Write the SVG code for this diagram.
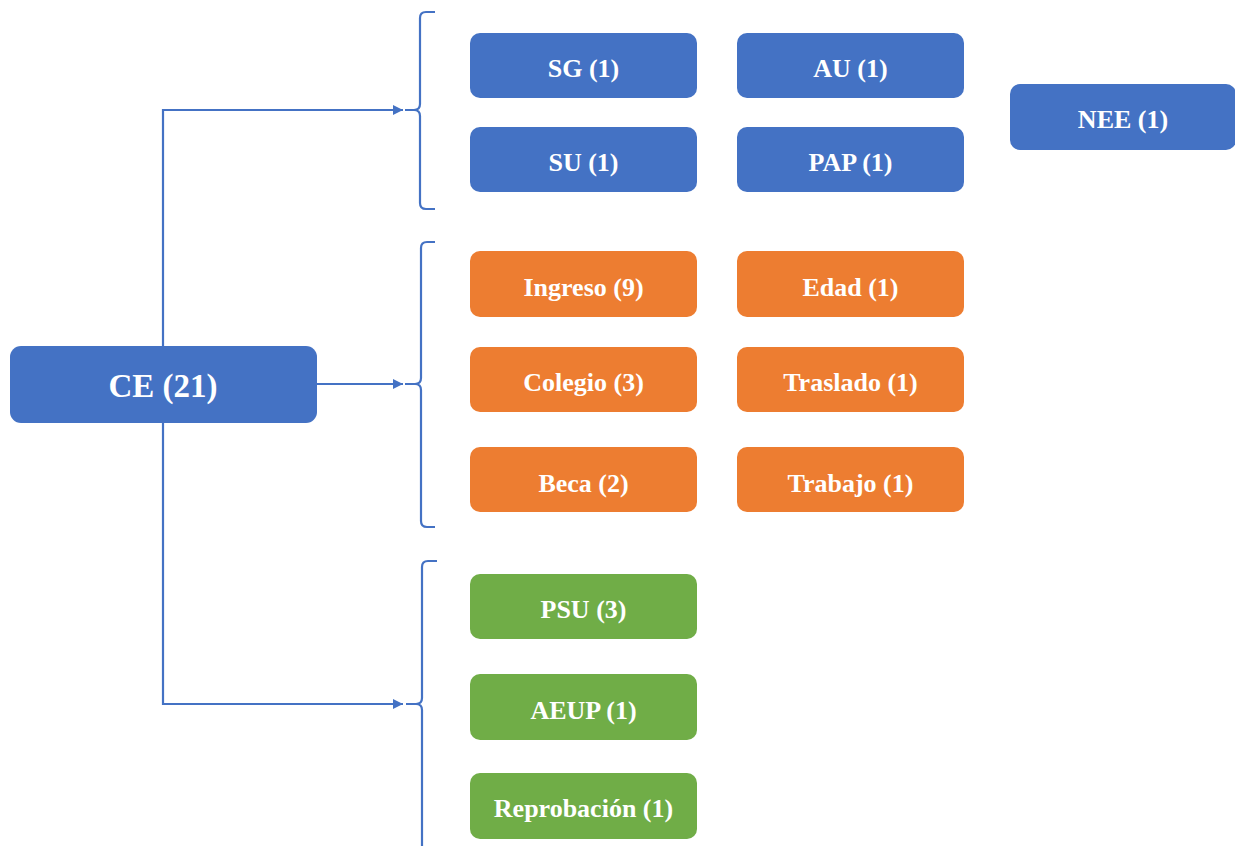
<svg xmlns="http://www.w3.org/2000/svg" width="1235" height="846" viewBox="0 0 1235 846">
  <style>
    .blue { fill: #4472C4; }
    .orange { fill: #ED7D31; }
    .green { fill: #70AD47; }
    .lbl { font-family: "Liberation Serif", "Times New Roman", serif; font-weight: bold; fill: #fff; font-size: 26px; text-anchor: middle; dominant-baseline: central; }
    .big { font-size: 33px; }
    .wire { fill: none; stroke: #4472C4; stroke-width: 2.2; }
  </style>
  <defs>
    <marker id="tri" viewBox="0 0 10 10" refX="10" refY="5" markerWidth="10" markerHeight="10" markerUnits="userSpaceOnUse" orient="auto">
      <path d="M0,0 L10,5 L0,10 z" fill="#4472C4"/>
    </marker>
  </defs>

  <g id="connectors">
    <!-- trunk and branches from the root -->
    <path class="wire" d="M163,346 V110 H403" marker-end="url(#tri)"/>
    <path class="wire" d="M317,384 H403" marker-end="url(#tri)"/>
    <path class="wire" d="M163,423 V704 H403" marker-end="url(#tri)"/>
    <!-- braces -->
    <path class="wire" d="M435,12 H426 Q420,12 420,18 V104 Q420,110 414,110 H405 M414,110 Q420,110 420,116 V203 Q420,209 426,209 H435"/>
    <path class="wire" d="M435,242 H427 Q421,242 421,248 V378 Q421,384 415,384 H405 M415,384 Q421,384 421,390 V521 Q421,527 427,527 H435"/>
    <path class="wire" d="M437,561 H428 Q422,561 422,567 V698 Q422,704 416,704 H406 M416,704 Q422,704 422,710 V850"/>
  </g>

  <g id="ce">
    <rect class="blue" x="10" y="346" width="307" height="77" rx="11"/>
    <text class="lbl big" x="163" y="386">CE (21)</text>
  </g>

  <g id="sg"><rect class="blue" x="470" y="33" width="227" height="65" rx="10"/><text class="lbl" x="583.5" y="68">SG (1)</text></g>
  <g id="au"><rect class="blue" x="737" y="33" width="227" height="65" rx="10"/><text class="lbl" x="850.5" y="68">AU (1)</text></g>
  <g id="su"><rect class="blue" x="470" y="127" width="227" height="65" rx="10"/><text class="lbl" x="583.5" y="162">SU (1)</text></g>
  <g id="pap"><rect class="blue" x="737" y="127" width="227" height="65" rx="10"/><text class="lbl" x="850.5" y="162">PAP (1)</text></g>
  <g id="nee"><rect class="blue" x="1010" y="84" width="226" height="66" rx="10"/><text class="lbl" x="1123" y="119">NEE (1)</text></g>

  <g id="ingreso"><rect class="orange" x="470" y="251" width="227" height="66" rx="10"/><text class="lbl" x="583.5" y="287">Ingreso (9)</text></g>
  <g id="edad"><rect class="orange" x="737" y="251" width="227" height="66" rx="10"/><text class="lbl" x="850.5" y="287">Edad (1)</text></g>
  <g id="colegio"><rect class="orange" x="470" y="347" width="227" height="65" rx="10"/><text class="lbl" x="583.5" y="382">Colegio (3)</text></g>
  <g id="traslado"><rect class="orange" x="737" y="347" width="227" height="65" rx="10"/><text class="lbl" x="850.5" y="382">Traslado (1)</text></g>
  <g id="beca"><rect class="orange" x="470" y="447" width="227" height="65" rx="10"/><text class="lbl" x="583.5" y="483">Beca (2)</text></g>
  <g id="trabajo"><rect class="orange" x="737" y="447" width="227" height="65" rx="10"/><text class="lbl" x="850.5" y="483">Trabajo (1)</text></g>

  <g id="psu"><rect class="green" x="470" y="574" width="227" height="65" rx="10"/><text class="lbl" x="583.5" y="609">PSU (3)</text></g>
  <g id="aeup"><rect class="green" x="470" y="674" width="227" height="66" rx="10"/><text class="lbl" x="583.5" y="710">AEUP (1)</text></g>
  <g id="reprobacion"><rect class="green" x="470" y="773" width="227" height="66" rx="10"/><text class="lbl" x="583.5" y="808">Reprobación (1)</text></g>
</svg>
